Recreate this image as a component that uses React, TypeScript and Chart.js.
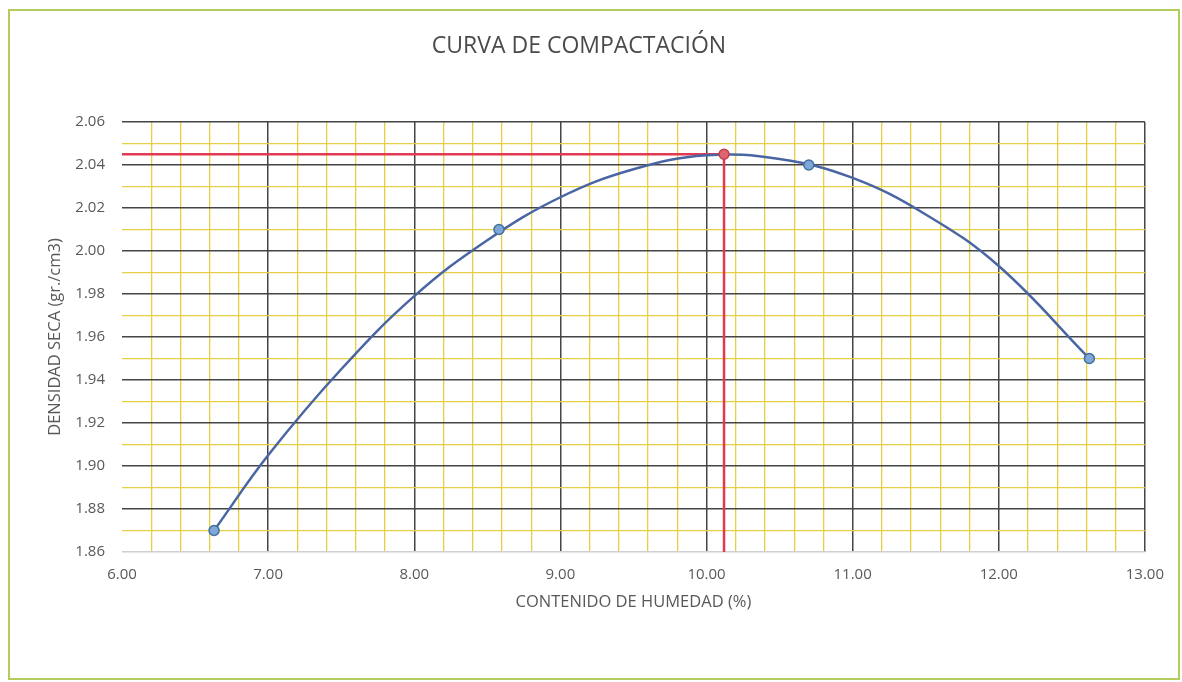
import React, { useEffect, useRef } from "react";
import { Chart, registerables } from "chart.js";

Chart.register(...registerables);

// Measured samples (moisture %, dry density g/cm3)
const moisture = [6.63, 8.58, 10.7, 12.62];
const density = [1.87, 2.01, 2.04, 1.95];

// Optimum point (max dry density)
const optMoisture = 10.12;
const optDensity = 2.045;

// Compaction curve
const curveX = [6.63, 7.0, 7.5, 8.0, 8.5, 9.0, 9.5, 10.0, 10.5, 11.0, 11.5, 12.0, 12.62];
const curveY = [1.87, 1.905, 1.945, 1.979, 2.005, 2.025, 2.038, 2.0445, 2.0428, 2.034, 2.017, 1.993, 1.95];

const xMin = 6.0;
const xMax = 13.0;
const yMin = 1.86;
const yMax = 2.06;

const FONT = "'Open Sans', 'Liberation Sans', sans-serif";
const MAJOR = "#454545";
const MINOR = "#e6cf45";

export default function App() {
  const ref = useRef<HTMLCanvasElement | null>(null);

  useEffect(() => {
    if (!ref.current) return;
    const isInt = (v: number) => Math.abs(v - Math.round(v)) < 1e-6;
    const isEvenHundredth = (v: number) => Math.round(v * 100) % 2 === 0;

    const chart = new Chart(ref.current, {
      type: "line",
      data: {
        datasets: [
          {
            label: "Óptimo",
            data: [{ x: optMoisture, y: optDensity }],
            showLine: false,
            pointRadius: 5,
            pointBackgroundColor: "#de6470",
            pointBorderColor: "#c0404d",
            pointBorderWidth: 1.5,
          },
          {
            label: "Ensayos",
            data: moisture.map((x, i) => ({ x, y: density[i] })),
            showLine: false,
            pointRadius: 5,
            pointBackgroundColor: "#7ea6d8",
            pointBorderColor: "#41719c",
            pointBorderWidth: 1.5,
          },
          {
            label: "Curva",
            data: curveX.map((x, i) => ({ x, y: curveY[i] })),
            borderColor: "#4a65a3",
            borderWidth: 2.5,
            pointRadius: 0,
            tension: 0.4,
            fill: false,
          },
          {
            label: "H",
            data: [
              { x: xMin, y: optDensity },
              { x: optMoisture, y: optDensity },
            ],
            borderColor: "#e23a52",
            borderWidth: 2.5,
            pointRadius: 0,
          },
          {
            label: "V",
            data: [
              { x: optMoisture, y: optDensity },
              { x: optMoisture, y: yMin },
            ],
            borderColor: "#e23a52",
            borderWidth: 2.5,
            pointRadius: 0,
          },
        ],
      },
      options: {
        animation: false,
        responsive: true,
        maintainAspectRatio: false,
        layout: { padding: { left: 0, right: 30, top: 0, bottom: 56 } },
        plugins: {
          legend: { display: false },
          tooltip: { enabled: false },
          title: {
            display: true,
            text: "CURVA DE COMPACTACIÓN",
            color: "#4a4a4a",
            font: { family: FONT, size: 23, weight: "normal" },
            padding: { top: 22, bottom: 61.4 },
          },
        },
        scales: {
          x: {
            type: "linear",
            min: xMin,
            max: xMax,
            afterFit: (s: any) => {
              s.height = 70;
            },
            border: { display: false },
            grid: {
              drawTicks: false,
              color: (c: any) => {
                const v = c.tick.value;
                if (Math.abs(v - xMin) < 1e-6) return "rgba(0,0,0,0)";
                return isInt(v) ? MAJOR : MINOR;
              },
              lineWidth: (c: any) => (isInt(c.tick.value) ? 1.5 : 1.3),
            },
            ticks: {
              stepSize: 0.2,
              autoSkip: false,
              maxRotation: 0,
              minRotation: 0,
              padding: 14,
              color: "#595959",
              font: { family: FONT, size: 15 },
              callback: (v: any) => (isInt(Number(v)) ? Number(v).toFixed(2) : ""),
            },
            title: {
              display: true,
              text: "CONTENIDO DE HUMEDAD (%)",
              color: "#595959",
              font: { family: FONT, size: 16.5 },
              padding: { top: 0, bottom: 10 },
            },
          },
          y: {
            type: "linear",
            min: yMin,
            max: yMax,
            afterFit: (s: any) => {
              s.width = 112;
            },
            border: { display: false },
            grid: {
              drawTicks: false,
              color: (c: any) => {
                const v = c.tick.value;
                if (Math.abs(v - yMin) < 1e-6) return "#d0d0d0";
                return isEvenHundredth(v) ? MAJOR : MINOR;
              },
              lineWidth: (c: any) => (isEvenHundredth(c.tick.value) ? 1.5 : 1.3),
            },
            ticks: {
              stepSize: 0.01,
              autoSkip: false,
              padding: 17,
              color: "#595959",
              font: { family: FONT, size: 15 },
              callback: (v: any) => (isEvenHundredth(Number(v)) ? Number(v).toFixed(2) : ""),
            },
            title: {
              display: true,
              text: "DENSIDAD SECA (gr./cm3)",
              color: "#595959",
              font: { family: FONT, size: 16.5 },
              padding: { top: 35, bottom: 0 },
            },
          },
        },
      },
    });
    return () => chart.destroy();
  }, []);

  return (
    <div
      style={{
        position: "absolute",
        left: 8,
        top: 9,
        width: 1172,
        height: 671,
        border: "2px solid #b3cc5c",
        boxSizing: "border-box",
        background: "#fff",
      }}
    >
      <div style={{ position: "relative", width: 1168, height: 667 }}>
        <canvas ref={ref} />
      </div>
    </div>
  );
}
